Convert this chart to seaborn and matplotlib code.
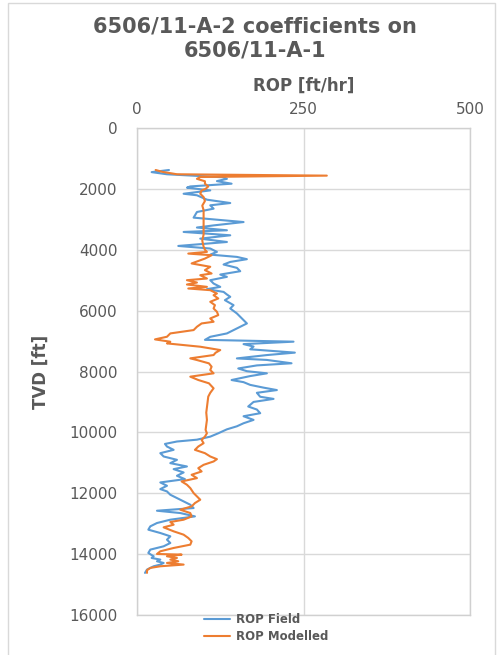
import numpy as np
import pandas as pd
import seaborn as sns
import matplotlib.pyplot as plt
from matplotlib.patches import Rectangle

# ROP logs versus true vertical depth
field_tvd = [1380, 1450, 1520, 1620, 1670, 1745, 1830, 1920, 1960, 2050, 2160, 2210,
             2355, 2465, 2540, 2650, 2760, 2870, 2945, 3090, 3200, 3270, 3360, 3415,
             3525, 3635, 3745, 3875, 3960, 4070, 4160, 4235, 4310, 4400, 4485, 4595,
             4705, 4815, 4890, 5000, 5110, 5220, 5295, 5385, 5470, 5546, 5656, 5820,
             5929, 6093, 6202, 6311, 6421, 6530, 6639, 6749, 6860, 6960, 7020, 7100,
             7180, 7270, 7380, 7460, 7570, 7620, 7730, 7800, 7900, 7990, 8060, 8150,
             8280, 8350, 8440, 8530, 8610, 8700, 8830, 8900, 9000, 9150, 9250, 9370,
             9470, 9590, 9700, 9800, 9900, 10030, 10140, 10240, 10300, 10380, 10465,
             10574, 10683, 10792, 10902, 11011, 11120, 11208, 11317, 11426, 11536,
             11645, 11754, 11863, 11940, 12049, 12158, 12268, 12377, 12486, 12574,
             12650, 12760, 12869, 12978, 13087, 13197, 13306, 13415, 13525, 13634,
             13743, 13852, 13962, 14071, 14126, 14180, 14235, 14290, 14344, 14399,
             14508, 14617]
field_rop = [48, 22, 45, 130, 135, 120, 142, 80, 75, 110, 70, 90,
             105, 140, 110, 115, 90, 87, 85, 160, 115, 90, 135, 70,
             140, 95, 135, 62, 110, 120, 110, 150, 165, 140, 130, 150,
             155, 125, 135, 110, 115, 125, 105, 130, 135, 140, 132, 145,
             140, 150, 155, 160, 165, 155, 145, 135, 110, 102, 235, 160,
             175, 170, 237, 195, 150, 195, 232, 180, 152, 165, 195, 170,
             142, 160, 170, 190, 210, 180, 185, 205, 175, 167, 180, 185,
             160, 175, 160, 150, 135, 122, 110, 90, 60, 42, 45,
             55, 35, 40, 60, 50, 75, 55, 70, 60, 72,
             35, 45, 35, 45, 50, 60, 70, 80, 85, 30,
             65, 87, 50, 30, 20, 17, 35, 50, 45, 50,
             40, 20, 17, 25, 22, 35, 30, 40, 35, 25,
             15, 12]

model_tvd = [1380, 1440, 1520, 1565, 1610, 1670, 1750, 1830, 1920, 2000, 2050, 2160,
             2270, 2400, 2550, 2700, 2900, 3100, 3300, 3500, 3700, 3900, 4000, 4070,
             4126, 4180, 4290, 4450, 4560, 4670, 4780, 4836, 4945, 5000, 5077, 5142,
             5219, 5273, 5328, 5437, 5492, 5601, 5710, 5820, 5929, 6038, 6148, 6257,
             6366, 6421, 6530, 6639, 6749, 6858, 6945, 7022, 7077, 7131, 7186, 7295,
             7383, 7459, 7568, 7623, 7732, 7842, 7951, 8060, 8170, 8279, 8388, 8552,
             8700, 8825, 9000, 9154, 9350, 9590, 9750, 9918, 10030, 10137, 10246,
             10355, 10465, 10574, 10683, 10792, 10880, 10956, 11066, 11175, 11284,
             11393, 11503, 11612, 11721, 11830, 11994, 12104, 12213, 12322, 12432,
             12541, 12650, 12760, 12869, 12945, 13033, 13120, 13251, 13361, 13470,
             13579, 13689, 13798, 13907, 13995, 14016, 14071, 14126, 14180, 14235,
             14290, 14344, 14399, 14453, 14530, 14617]
model_rop = [28, 38, 60, 285, 95, 90, 102, 102, 107, 103, 97, 95,
             100, 102, 98, 100, 100, 100, 100, 100, 98, 100, 102, 105,
             77, 112, 102, 82, 110, 102, 112, 95, 105, 75, 90, 75,
             105, 77, 110, 120, 115, 122, 110, 117, 115, 120, 122, 110,
             115, 97, 90, 85, 50, 45, 27, 50, 45, 70, 95, 125,
             118, 115, 80, 90, 108, 112, 110, 115, 80, 92, 108, 115,
             110, 107, 106, 105, 104, 105, 104, 103, 105, 102, 97,
             100, 92, 87, 102, 110, 120, 115, 100, 92, 97,
             82, 90, 67, 75, 80, 85, 90, 95, 87, 82,
             65, 80, 82, 70, 50, 55, 40, 55, 70, 77,
             82, 80, 55, 35, 30, 67, 45, 60, 50, 62,
             45, 70, 35, 20, 15, 15]

series_names = ["ROP Field", "ROP Modelled"]
series_colors = ["#5B9BD5", "#ED7D31"]

df = pd.concat([
    pd.DataFrame({"ROP": field_rop, "TVD": field_tvd, "series": series_names[0]}),
    pd.DataFrame({"ROP": model_rop, "TVD": model_tvd, "series": series_names[1]}),
], ignore_index=True)

sns.set_style("white")
plt.rcParams["font.family"] = ["DejaVu Sans"]
text_grey = "#595959"
grid_grey = "#d9d9d9"

fig = plt.figure(figsize=(4.99, 6.55), dpi=100)
ax = fig.add_axes([137 / 499, 1 - 615 / 655, 333 / 499, 487 / 655])

sns.lineplot(data=df, x="ROP", y="TVD", hue="series", palette=series_colors,
             orient="y", estimator=None, sort=False, linewidth=1.5, ax=ax,
             legend=False)

ax.set_xlim(0, 500)
ax.set_ylim(16000, 0)
ax.set_xticks([0, 250, 500])
ax.set_yticks(np.arange(0, 16001, 2000))
ax.xaxis.tick_top()
ax.xaxis.set_label_position("top")
ax.tick_params(axis="both", length=0, colors=text_grey, labelsize=11)
ax.tick_params(axis="x", pad=8)
ax.tick_params(axis="y", pad=14)
ax.grid(True, color=grid_grey, linewidth=1.0)
ax.set_axisbelow(True)
for sp in ax.spines.values():
    sp.set_color("#d0d0d0")
    sp.set_linewidth(1.0)

ax.set_xlabel("ROP [ft/hr]", fontsize=12, fontweight="bold", color=text_grey, labelpad=8)
ax.set_ylabel("TVD [ft]", fontsize=12, fontweight="bold", color=text_grey, labelpad=14)

fig.text(255 / 499, 1 - 38 / 655, "6506/11-A-2 coefficients on\n6506/11-A-1",
         ha="center", va="center", fontsize=15, fontweight="bold", color=text_grey,
         linespacing=1.25)

fig.legend(handles=ax.lines[:2], labels=series_names, loc="upper left",
           bbox_to_anchor=(204 / 499, 1 - 613 / 655), frameon=False,
           prop={"size": 8.5, "weight": "bold"}, labelcolor=text_grey,
           handlelength=2.2, handletextpad=0.5, labelspacing=0.35, borderpad=0,
           borderaxespad=0)

# outer chart border
fig.patches.append(Rectangle((8 / 499, -0.02), 487 / 499, 1 - 3 / 655 + 0.02,
                             transform=fig.transFigure, fill=False,
                             edgecolor="#d9d9d9", linewidth=1.0))

fig.savefig("out.png", dpi=100)
